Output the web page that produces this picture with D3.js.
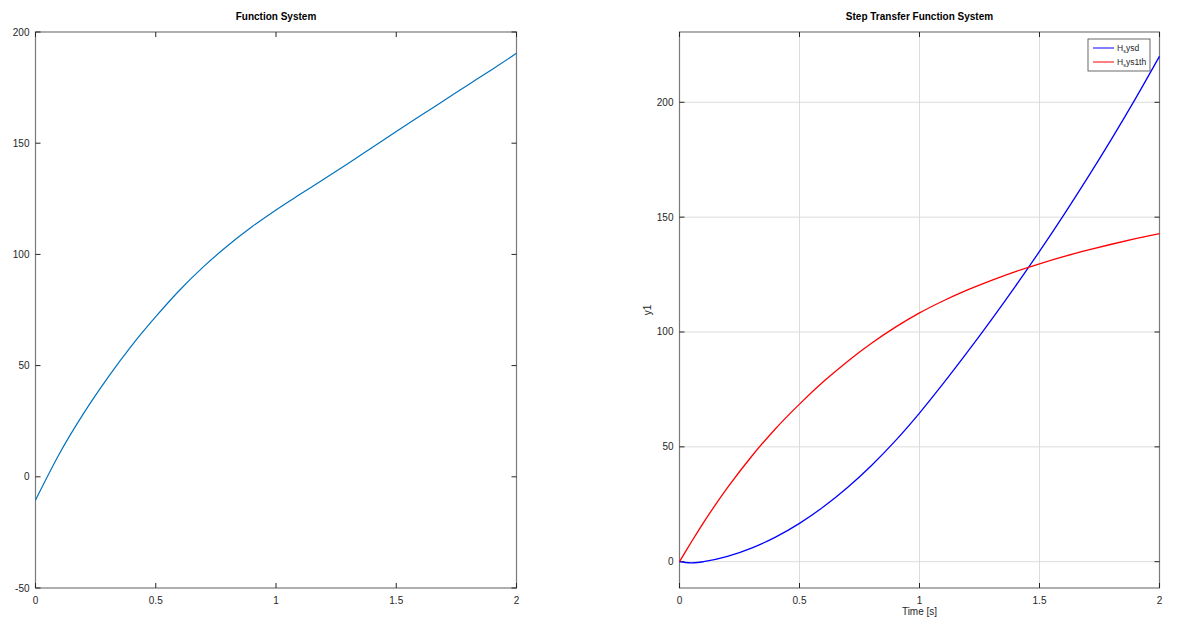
<!DOCTYPE html>
<html>
<head>
<meta charset="utf-8">
<script src="https://cdn.jsdelivr.net/npm/d3@7"></script>
<style>
  html, body { margin: 0; padding: 0; background: #fff; }
  svg { display: block; font-family: "Liberation Sans", Arial, sans-serif; }
</style>
</head>
<body>
<svg id="chart" width="1200" height="636"></svg>
<script>
// ---------- data ----------
const leftTitle = "Function System";
const rightTitle = "Step Transfer Function System";
const xTicks = [0, 0.5, 1, 1.5, 2];
const xTickLabels = ["0", "0.5", "1", "1.5", "2"];
const leftYTicks = [-50, 0, 50, 100, 150, 200];
const rightYTicks = [0, 50, 100, 150, 200];

const leftT = [0, 0.1, 0.2, 0.3, 0.4, 0.5, 0.6, 0.7, 0.8, 0.9, 1.0, 1.1, 1.2, 1.3, 1.4, 1.5, 1.6, 1.7, 1.8, 1.9, 2.0];
const leftY = [-10.5, 10.5, 28.5, 44.5, 59, 72, 84, 94.6, 104.0, 112.4, 120.0, 127.0, 133.9, 140.9, 148.1, 155.3, 162.3, 169.3, 176.3, 183.3, 190.4];

const stepT = [0, 0.025, 0.05, 0.075, 0.1, 0.2, 0.3, 0.4, 0.5, 0.6, 0.7, 0.8, 0.9, 1.0, 1.1, 1.2, 1.3, 1.4, 1.5, 1.6, 1.7, 1.8, 1.9, 2.0];
const sysd   = [0, -0.35, -0.5, -0.35, 0.0, 2.3, 5.9, 10.7, 16.7, 23.9, 32.3, 41.9, 52.7, 64.7, 77.7, 91.3, 105.4, 120.0, 135.1, 150.8, 167.1, 184.0, 201.6, 220.0];
const sys1th = [0, 4.4, 8.7, 12.9, 17.0, 32.2, 45.8, 57.9, 68.6, 78.4, 87.2, 95.1, 102.1, 108.3, 113.6, 118.3, 122.5, 126.3, 129.7, 132.8, 135.6, 138.2, 140.6, 142.8];

const seriesNames = ["sysd", "sys1th"];
const seriesColors = ["#0000ff", "#ff0000"];

// ---------- drawing ----------
const svg = d3.select("#chart");
const axisColor = "#262626";
const frameColor = "#7a7a7a";
const tickLen = 5;

function panel(opts) {
  const { left, right, top, bottom, yDomain, yTicks, grid, title } = opts;
  const x = d3.scaleLinear().domain([0, 2]).range([left, right]);
  const y = d3.scaleLinear().domain(yDomain).range([bottom, top]);
  const g = svg.append("g");

  if (grid) {
    g.selectAll(".gx").data(xTicks).enter().append("line")
      .attr("x1", d => x(d)).attr("x2", d => x(d))
      .attr("y1", top).attr("y2", bottom)
      .attr("stroke", "#dcdcdc").attr("stroke-width", 1);
    g.selectAll(".gy").data(yTicks).enter().append("line")
      .attr("x1", left).attr("x2", right)
      .attr("y1", d => y(d)).attr("y2", d => y(d))
      .attr("stroke", "#dcdcdc").attr("stroke-width", 1);
  }

  g.append("rect").attr("x", left).attr("y", top)
    .attr("width", right - left).attr("height", bottom - top)
    .attr("fill", "none").attr("stroke", frameColor).attr("stroke-width", 1.2);

  xTicks.forEach(v => {
    g.append("line").attr("x1", x(v)).attr("x2", x(v)).attr("y1", bottom).attr("y2", bottom - tickLen).attr("stroke", axisColor);
    g.append("line").attr("x1", x(v)).attr("x2", x(v)).attr("y1", top).attr("y2", top + tickLen).attr("stroke", axisColor);
  });
  yTicks.forEach(v => {
    g.append("line").attr("x1", left).attr("x2", left + tickLen).attr("y1", y(v)).attr("y2", y(v)).attr("stroke", axisColor);
    g.append("line").attr("x1", right).attr("x2", right - tickLen).attr("y1", y(v)).attr("y2", y(v)).attr("stroke", axisColor);
  });

  g.selectAll(".xl").data(xTicks).enter().append("text")
    .attr("x", d => x(d)).attr("y", bottom + 16)
    .attr("text-anchor", "middle").attr("font-size", 10).attr("fill", axisColor)
    .text((d, i) => xTickLabels[i]);
  g.selectAll(".yl").data(yTicks).enter().append("text")
    .attr("x", left - 6).attr("y", d => y(d) + 3.5)
    .attr("text-anchor", "end").attr("font-size", 10).attr("fill", axisColor)
    .text(d => d);

  g.append("text").attr("x", (left + right) / 2).attr("y", 20)
    .attr("text-anchor", "middle").attr("font-size", 10).attr("font-weight", "bold")
    .attr("fill", "#000").text(title);

  return { x, y, g };
}

// Left panel
const L = panel({ left: 35.5, right: 516.5, top: 32, bottom: 588, yDomain: [-50, 200], yTicks: leftYTicks, grid: false, title: leftTitle });
const lineL = d3.line().x((d, i) => L.x(leftT[i])).y(d => L.y(d)).curve(d3.curveMonotoneX);
L.g.append("path").datum(leftY).attr("d", lineL)
  .attr("fill", "none").attr("stroke", "#0072bd").attr("stroke-width", 1.2);

// Right panel
const R = panel({ left: 679.5, right: 1159.5, top: 32, bottom: 588, yDomain: [-11.45, 230.6], yTicks: rightYTicks, grid: true, title: rightTitle });
const lineR = d3.line().x((d, i) => R.x(stepT[i])).y(d => R.y(d)).curve(d3.curveMonotoneX);
[sysd, sys1th].forEach((s, k) => {
  R.g.append("path").datum(s).attr("d", lineR)
    .attr("fill", "none").attr("stroke", seriesColors[k]).attr("stroke-width", 1.3);
});

R.g.append("text").attr("x", (679.5 + 1159.5) / 2).attr("y", 615)
  .attr("text-anchor", "middle").attr("font-size", 10).attr("fill", axisColor).text("Time [s]");
R.g.append("text").attr("transform", "translate(651,310) rotate(-90)")
  .attr("text-anchor", "middle").attr("font-size", 10).attr("fill", axisColor).text("y1");

// legend
const lg = R.g.append("g").attr("transform", "translate(1088,39)");
lg.append("rect").attr("x", 0).attr("y", 0).attr("width", 62).attr("height", 32)
  .attr("fill", "#fff").attr("stroke", "#444").attr("stroke-width", 0.8);
seriesNames.forEach((n, i) => {
  const yy = 9 + i * 14;
  lg.append("line").attr("x1", 5).attr("x2", 26).attr("y1", yy).attr("y2", yy)
    .attr("stroke", seriesColors[i]).attr("stroke-width", 1);
  const t = lg.append("text").attr("x", 29).attr("y", yy + 3).attr("font-size", 8.5).attr("fill", axisColor);
  t.append("tspan").text("H");
  t.append("tspan").attr("font-size", 5.5).attr("dy", 2).text(n[0]);
  t.append("tspan").attr("dy", -2).text(n.slice(1));
});
</script>
</body>
</html>
